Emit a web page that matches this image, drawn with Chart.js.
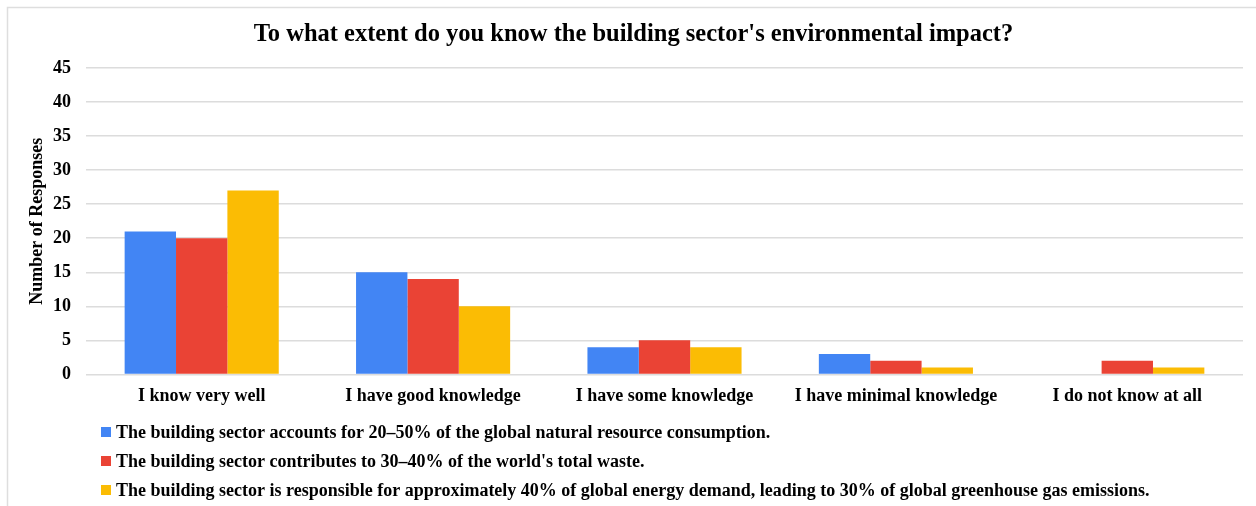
<!DOCTYPE html>
<html>
<head>
<meta charset="utf-8">
<script src="https://cdn.jsdelivr.net/npm/chart.js@4/dist/chart.umd.min.js"></script>
<style>
  html, body { margin: 0; padding: 0; background: #ffffff; }
  #wrap { position: relative; width: 1256px; height: 506px; }
  canvas { display: block; }
</style>
</head>
<body>
<div id="wrap"><canvas id="chart" width="1256" height="506"></canvas></div>
<script>
// Survey answers on awareness of the building sector's environmental impact
const categories = [
  'I know very well',
  'I have good knowledge',
  'I have some knowledge',
  'I have minimal knowledge',
  'I do not know at all'
];
const seriesNames = [
  'The building sector accounts for 20\u201350% of the global natural resource consumption.',
  "The building sector contributes to 30\u201340% of the world's total waste.",
  'The building sector is responsible for approximately 40% of global energy demand, leading to 30% of global greenhouse gas emissions.'
];
const resourceValues = [21, 15, 4, 3, 0];
const wasteValues = [20, 14, 5, 2, 2];
const energyValues = [27, 10, 4, 1, 1];
const yTicks = [0, 5, 10, 15, 20, 25, 30, 35, 40, 45];

const colors = ['#4285F4', '#EA4335', '#FBBC04'];
const serif = '"Liberation Serif", "Times New Roman", serif';

// Light frame around the figure
const framePlugin = {
  id: 'frame',
  beforeDraw(chart) {
    const ctx = chart.ctx;
    ctx.save();
    ctx.strokeStyle = '#dedede';
    ctx.lineWidth = 1.5;
    ctx.beginPath();
    ctx.moveTo(7.5, chart.height);
    ctx.lineTo(7.5, 7.5);
    ctx.lineTo(chart.width, 7.5);
    ctx.stroke();
    ctx.restore();
  }
};

// Legend stacked one entry per line, left aligned under the axis
const stackedLegend = {
  id: 'stackedLegend',
  afterDraw(chart) {
    const ctx = chart.ctx;
    ctx.save();
    ctx.font = 'bold 18px ' + serif;
    ctx.textBaseline = 'middle';
    ctx.textAlign = 'left';
    chart.data.datasets.forEach((ds, i) => {
      const y = 432 + i * 29;
      ctx.fillStyle = ds.backgroundColor;
      ctx.fillRect(101, y - 5, 10, 10);
      ctx.fillStyle = '#000000';
      ctx.fillText(ds.label, 116, y + 1);
    });
    ctx.restore();
  }
};

const seriesValues = [resourceValues, wasteValues, energyValues];

new Chart(document.getElementById('chart'), {
  type: 'bar',
  data: {
    labels: categories,
    datasets: seriesNames.map((name, i) => ({
      label: name,
      data: seriesValues[i],
      backgroundColor: colors[i],
      borderWidth: 0,
      categoryPercentage: 0.666,
      barPercentage: 1.0
    }))
  },
  options: {
    responsive: false,
    animation: false,
    layout: { padding: { left: 24, right: 13, top: 8, bottom: 88 } },
    plugins: {
      legend: { display: false },
      tooltip: { enabled: false },
      title: {
        display: true,
        text: "To what extent do you know the building sector's environmental impact?",
        color: '#000000',
        font: { family: serif, size: 24.5, weight: 'bold' },
        padding: { top: 12, bottom: 18.6 }
      }
    },
    scales: {
      x: {
        grid: { display: false, drawTicks: false },
        border: { display: false },
        ticks: {
          color: '#000000',
          font: { family: serif, size: 18, weight: 'bold' },
          padding: 11,
          maxRotation: 0
        }
      },
      y: {
        min: 0,
        max: 45,
        afterBuildTicks(scale) {
          scale.ticks = yTicks.map(v => ({ value: v }));
        },
        afterFit(scale) { scale.width = 62; },
        grid: { color: '#dcdcdc', lineWidth: 1.5, drawTicks: false },
        border: { display: false },
        ticks: {
          color: '#000000',
          font: { family: serif, size: 18, weight: 'bold' },
          padding: 15
        },
        title: {
          display: true,
          text: 'Number of Responses',
          color: '#000000',
          font: { family: serif, size: 18, weight: 'bold' },
          padding: { top: 3, bottom: 2 }
        }
      }
    }
  },
  plugins: [framePlugin, stackedLegend]
});
</script>
</body>
</html>
